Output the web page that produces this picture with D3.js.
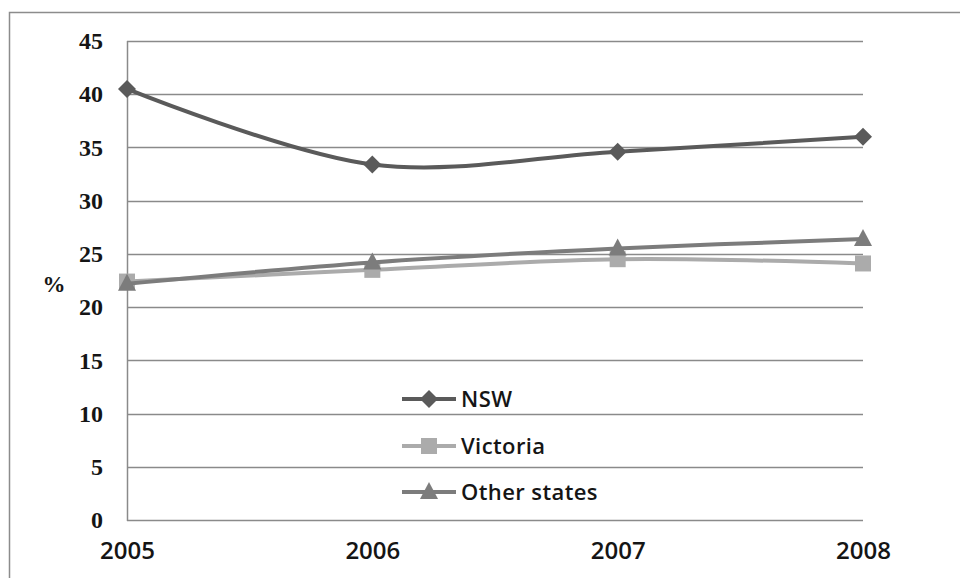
<!DOCTYPE html>
<html>
<head>
<meta charset="utf-8">
<script src="https://cdn.jsdelivr.net/npm/d3@7"></script>
<style>
  html, body { margin: 0; padding: 0; background: #fff; }
  svg { display: block; }
</style>
</head>
<body>
<svg id="chart" width="960" height="578"></svg>
<script>
// Share (%) by state, 2005–2008
const years = ["2005", "2006", "2007", "2008"];
const nsw = [40.5, 33.4, 34.6, 36.0];
const victoria = [22.4, 23.5, 24.5, 24.1];
const otherStates = [22.2, 24.2, 25.5, 26.4];
const yTicks = [0, 5, 10, 15, 20, 25, 30, 35, 40, 45];

const series = [
  { name: "NSW", values: nsw, color: "#5a5a5a", marker: "diamond" },
  { name: "Victoria", values: victoria, color: "#ababab", marker: "square" },
  { name: "Other states", values: otherStates, color: "#7c7c7c", marker: "triangle" }
];

const svg = d3.select("#chart");
const plot = { left: 127, right: 863, top: 41, bottom: 520 };

const x = d3.scalePoint().domain(years).range([plot.left, plot.right]);
const y = d3.scaleLinear().domain([0, 45]).range([plot.bottom, plot.top]);

// outer chart frame (top and left edges)
svg.append("path")
  .attr("d", `M9.5,578 V12.5 H960`)
  .attr("fill", "none")
  .attr("stroke", "#8c8c8c")
  .attr("stroke-width", 1.5);

// horizontal gridlines
svg.append("g")
  .selectAll("line")
  .data(yTicks)
  .join("line")
  .attr("x1", plot.left).attr("x2", plot.right)
  .attr("y1", d => Math.round(y(d)) + 0.5).attr("y2", d => Math.round(y(d)) + 0.5)
  .attr("stroke", "#8a8a8a")
  .attr("stroke-width", 1.5);

// left axis line
svg.append("line")
  .attr("x1", plot.left + 0.5).attr("x2", plot.left + 0.5)
  .attr("y1", plot.top).attr("y2", plot.bottom + 1)
  .attr("stroke", "#8a8a8a")
  .attr("stroke-width", 1.5);

// y tick labels
const yAxis = d3.axisLeft(y).tickValues(yTicks).tickSize(0).tickPadding(24);
const gy = svg.append("g")
  .attr("transform", `translate(${plot.left},0)`)
  .call(yAxis);
gy.select(".domain").remove();
gy.selectAll("text")
  .attr("font-family", "Liberation Serif, serif")
  .attr("font-weight", "bold")
  .attr("font-size", 24)
  .attr("fill", "#151515");

// x tick labels
const xAxis = d3.axisBottom(x).tickSize(0).tickPadding(22);
const gx = svg.append("g")
  .attr("transform", `translate(0,${plot.bottom})`)
  .call(xAxis);
gx.select(".domain").remove();
gx.selectAll("text")
  .attr("font-family", "Open Sans, sans-serif")
  .attr("font-weight", 600)
  .attr("font-size", 24)
  .attr("fill", "#151515");

// y axis title
svg.append("text")
  .attr("x", 54).attr("y", 292)
  .attr("text-anchor", "middle")
  .attr("font-family", "Liberation Serif, serif")
  .attr("font-weight", "bold")
  .attr("font-size", 23)
  .attr("fill", "#151515")
  .text("%");

const line = d3.line()
  .x((d, i) => x(years[i]))
  .y(d => y(d))
  .curve(d3.curveCatmullRom.alpha(0.5));

function markerPath(type) {
  if (type === "diamond") return "M0,-9 L9,0 L0,9 L-9,0 Z";
  if (type === "square") return "M-8,-8 H8 V8 H-8 Z";
  return "M0,-10 L9,7 L-9,7 Z";
}

const gs = svg.append("g")
  .selectAll("g")
  .data(series)
  .join("g");

gs.append("path")
  .attr("d", d => line(d.values))
  .attr("fill", "none")
  .attr("stroke", d => d.color)
  .attr("stroke-width", 4);

gs.each(function (s) {
  d3.select(this).selectAll("path.mk")
    .data(s.values)
    .join("path")
    .attr("class", "mk")
    .attr("transform", (d, i) => `translate(${x(years[i])},${y(d)})`)
    .attr("d", markerPath(s.marker))
    .attr("fill", s.color);
});

// legend
const legendY = [399, 446, 492];
const lg = svg.append("g")
  .selectAll("g")
  .data(series)
  .join("g")
  .attr("transform", (d, i) => `translate(402,${legendY[i]})`);

lg.append("line")
  .attr("x1", 0).attr("x2", 54)
  .attr("stroke", d => d.color)
  .attr("stroke-width", 4);
lg.append("path")
  .attr("transform", "translate(27,0)")
  .attr("d", d => markerPath(d.marker))
  .attr("fill", d => d.color);
lg.append("text")
  .attr("x", 59).attr("y", 8)
  .attr("font-family", "Open Sans, sans-serif")
  .attr("font-weight", 600)
  .attr("font-size", 22)
  .attr("letter-spacing", 0.4)
  .attr("fill", "#151515")
  .text(d => d.name);
</script>
</body>
</html>
